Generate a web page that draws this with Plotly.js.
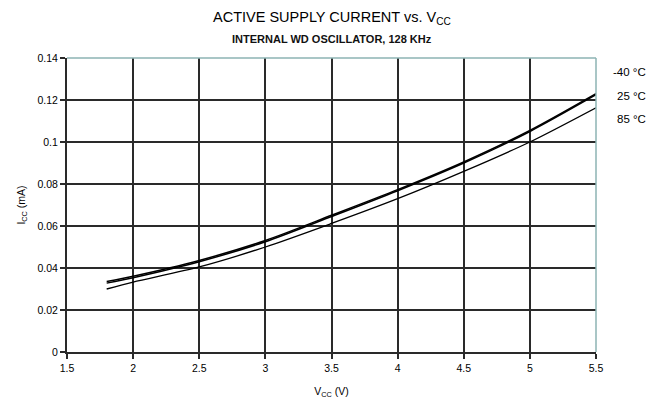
<!DOCTYPE html>
<html>
<head>
<meta charset="utf-8">
<script src="https://cdn.plot.ly/plotly-3.0.1.min.js"></script>
<style>html,body{margin:0;padding:0;background:#fff;}#chart{width:655px;height:405px;}</style>
</head>
<body>
<div id="chart"></div>
<script>
// Supply voltage (V)
const vcc = [1.8, 2.0, 2.5, 3.0, 3.5, 4.0, 4.5, 5.0, 5.5];
// Active supply current (mA) per temperature
const icc_m40 = [0.0336, 0.0361, 0.0436, 0.0531, 0.0651, 0.0773, 0.0905, 0.1055, 0.1230];
const icc_25  = [0.0328, 0.0354, 0.0430, 0.0525, 0.0645, 0.0768, 0.0900, 0.1050, 0.1225];
const icc_85  = [0.0300, 0.0333, 0.0405, 0.0500, 0.0612, 0.0730, 0.0860, 0.1000, 0.1163];
const seriesNames = ["-40 °C", "25 °C", "85 °C"];
const xTicks = [1.5, 2, 2.5, 3, 3.5, 4, 4.5, 5, 5.5];
const yTicks = [0, 0.02, 0.04, 0.06, 0.08, 0.1, 0.12, 0.14];

const FONT = "Liberation Sans, Arial, sans-serif";
const seriesY = [icc_m40, icc_25, icc_85];
const widths = [1.5, 1.5, 1.3];
const traces = seriesY.map((y, i) => ({
  x: vcc, y: y, type: "scatter", mode: "lines", name: seriesNames[i],
  line: {color: "#000", width: widths[i], shape: "spline", smoothing: 0.8},
  showlegend: false, hoverinfo: "skip"
}));

const labelY = [0.952, 0.871, 0.793];
const annotations = seriesNames.map((n, i) => ({
  text: n.replace(" ", "\u00a0"), xref: "paper", yref: "paper", x: 1.098, y: labelY[i],
  xanchor: "right", yanchor: "middle", showarrow: false,
  font: {family: FONT, size: 11.5, color: "#000"}
}));
annotations.push({
  text: "ACTIVE SUPPLY CURRENT vs. V<sub>CC</sub>", xref: "paper", yref: "paper",
  x: 0.5, y: 1 + (58 - 18) / 294, xanchor: "center", yanchor: "middle", showarrow: false,
  font: {family: FONT, size: 14.5, color: "#000"}
});
annotations.push({
  text: "<b>INTERNAL WD OSCILLATOR, 128 KHz</b>", xref: "paper", yref: "paper",
  x: 0.5, y: 1 + (58 - 39) / 294, xanchor: "center", yanchor: "middle", showarrow: false,
  font: {family: FONT, size: 11, color: "#111"}
});

const layout = {
  width: 655, height: 405,
  margin: {l: 67, r: 59, t: 58, b: 53, pad: 0},
  paper_bgcolor: "#fff", plot_bgcolor: "#fff",
  font: {family: FONT, size: 10.5, color: "#000"},
  xaxis: {
    range: [1.5, 5.5], tickvals: xTicks, ticktext: xTicks.map(String),
    showgrid: true, gridcolor: "#2a2a2a", gridwidth: 2,
    showline: true, linecolor: "#2a2a2a", linewidth: 2,
    ticks: "outside", ticklen: 5, tickcolor: "#2a2a2a", tickwidth: 2,
    zeroline: false, tickfont: {family: FONT, size: 10.5},
    title: {text: "V<sub>CC</sub> (V)", font: {family: FONT, size: 10.5}, standoff: 15}
  },
  yaxis: {
    range: [0, 0.14], tickvals: yTicks, ticktext: yTicks.map(String),
    showgrid: true, gridcolor: "#2a2a2a", gridwidth: 2,
    showline: true, linecolor: "#2a2a2a", linewidth: 2,
    ticks: "outside", ticklen: 5, tickcolor: "#2a2a2a", tickwidth: 2,
    zeroline: false, tickfont: {family: FONT, size: 10.5},
    title: {text: "I<sub>CC</sub> (mA)", font: {family: FONT, size: 10.5}, standoff: 10}
  },
  shapes: [
    {type: "line", xref: "paper", yref: "paper", x0: 0, x1: 1, y0: 1, y1: 1,
     line: {color: "#8db3b3", width: 1.5}, layer: "above"},
    {type: "line", xref: "paper", yref: "paper", x0: 1, x1: 1, y0: 0, y1: 1,
     line: {color: "#8db3b3", width: 1.5}, layer: "above"}
  ],
  annotations: annotations
};

Plotly.newPlot("chart", traces, layout, {staticPlot: true, displayModeBar: false});
</script>
</body>
</html>
